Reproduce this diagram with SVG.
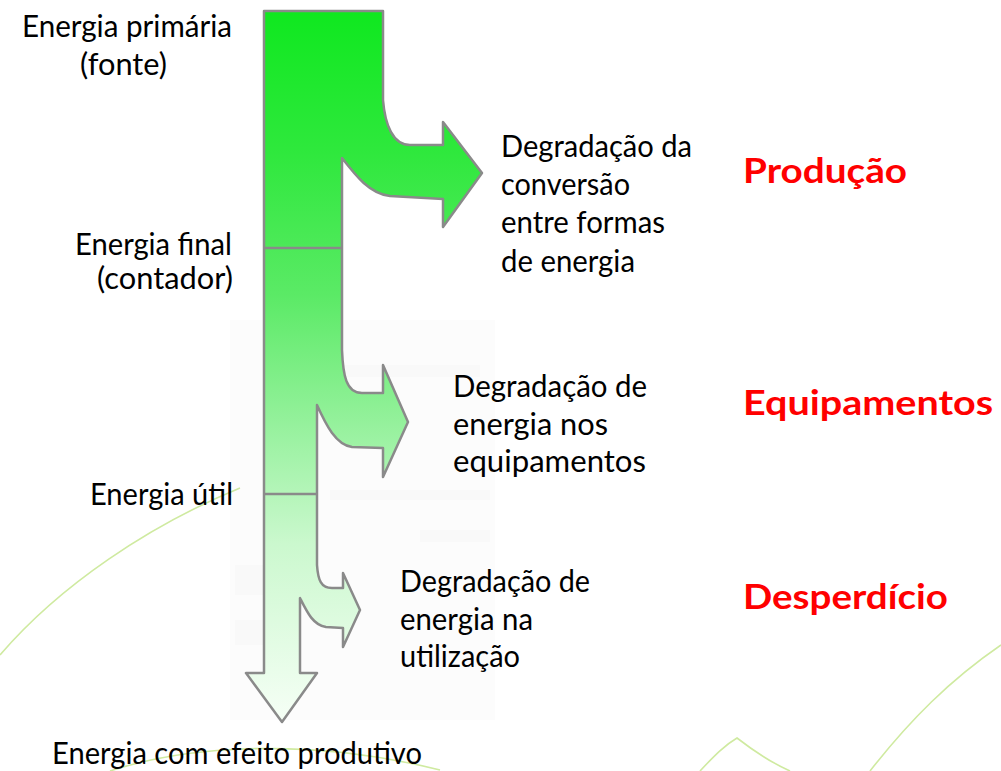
<svg xmlns="http://www.w3.org/2000/svg" width="1001" height="771" viewBox="0 0 1001 771">
<style>
.lbl{font-family:"Lato","Open Sans","DejaVu Sans",sans-serif;font-size:30px;fill:#000}
.cat{font-family:"Lato","Open Sans","DejaVu Sans",sans-serif;font-size:35px;font-weight:bold;fill:#ff0000}
.deco{fill:none;stroke:#cfeaa0;stroke-width:1.6}
.ghost{fill:#000;opacity:0.012}
.flowline{fill:none;stroke:#8a8a8a;stroke-width:2.5}
</style>
<defs>
<linearGradient id="gflow" gradientUnits="userSpaceOnUse" x1="0" y1="11" x2="0" y2="722">
<stop offset="0" stop-color="#0fe81f"/>
<stop offset="0.2" stop-color="#2fe83d"/>
<stop offset="0.4" stop-color="#5bea66"/>
<stop offset="0.58" stop-color="#95f19c"/>
<stop offset="0.75" stop-color="#cbf8ce"/>
<stop offset="1" stop-color="#f6fff6"/>
</linearGradient>
</defs>
<rect width="1001" height="771" fill="#ffffff"/>
<g id="background">
<path class="deco" d="M0,655 C60,585 150,525 240,488"/>
<path class="deco" d="M110,771 C180,748 300,735 440,770"/>
<path class="deco" d="M700,771 C715,755 725,745 737,738 C755,752 770,762 790,771"/>
<path class="deco" d="M870,771 C910,720 950,680 1001,645"/>
<rect class="ghost" x="230" y="320" width="265" height="400"/>
<rect class="ghost" x="330" y="365" width="150" height="12"/>
<rect class="ghost" x="330" y="490" width="160" height="10"/>
<rect class="ghost" x="420" y="530" width="70" height="12"/>
<rect class="ghost" x="235" y="565" width="60" height="30"/>
<rect class="ghost" x="235" y="620" width="60" height="25"/>
</g>
<g id="flow">
<path fill="url(#gflow)" stroke="#8a8a8a" stroke-width="2.5" stroke-linejoin="round" d="M264,11 L383,11 L383,100 C385,125 393,145 410,145 L443,145 L443,122 L482,173 L443,227 L443,199 L390,196 C370,194 356,176 342,158 L342,350 C343,375 346,393 362,393 L383,393 L383,365 L408,422 L383,477 L383,448 L352,447 C336,445 326,425 317,405 L317,565 C318,580 321,588 332,588 L343,588 L343,573 L360,610 L343,647 L343,628 L326,627 C313,625 307,612 300,598 L300,673 L317,673 L282,722 L246,673 L264,673 Z"/>
</g>
<g id="connectors">
<line class="flowline" x1="264" y1="248" x2="342" y2="248"/>
<line class="flowline" x1="264" y1="494" x2="317" y2="494"/>
</g>
<g id="energia-primaria">
<text class="lbl" x="22" y="37" textLength="210" lengthAdjust="spacingAndGlyphs">Energia primária</text>
<text class="lbl" x="80" y="75" textLength="87" lengthAdjust="spacingAndGlyphs">(fonte)</text>
</g>
<g id="energia-final">
<text class="lbl" x="75" y="255" textLength="157" lengthAdjust="spacingAndGlyphs">Energia final</text>
<text class="lbl" x="97" y="289" textLength="136" lengthAdjust="spacingAndGlyphs">(contador)</text>
</g>
<g id="energia-util">
<text class="lbl" x="90" y="505" textLength="143" lengthAdjust="spacingAndGlyphs">Energia útil</text>
</g>
<g id="energia-produtivo">
<text class="lbl" x="52" y="764" textLength="370" lengthAdjust="spacingAndGlyphs">Energia com efeito produtivo</text>
</g>
<g id="degradacao-conversao">
<text class="lbl" x="501" y="157" textLength="191" lengthAdjust="spacingAndGlyphs">Degradação da</text>
<text class="lbl" x="501" y="195" textLength="129" lengthAdjust="spacingAndGlyphs">conversão</text>
<text class="lbl" x="501" y="233" textLength="164" lengthAdjust="spacingAndGlyphs">entre formas</text>
<text class="lbl" x="501" y="272" textLength="134" lengthAdjust="spacingAndGlyphs">de energia</text>
</g>
<g id="degradacao-equipamentos">
<text class="lbl" x="453" y="397" textLength="194" lengthAdjust="spacingAndGlyphs">Degradação de</text>
<text class="lbl" x="453" y="435" textLength="155" lengthAdjust="spacingAndGlyphs">energia nos</text>
<text class="lbl" x="453" y="472" textLength="193" lengthAdjust="spacingAndGlyphs">equipamentos</text>
</g>
<g id="degradacao-utilizacao">
<text class="lbl" x="400" y="592" textLength="190" lengthAdjust="spacingAndGlyphs">Degradação de</text>
<text class="lbl" x="400" y="630" textLength="133" lengthAdjust="spacingAndGlyphs">energia na</text>
<text class="lbl" x="400" y="667" textLength="120" lengthAdjust="spacingAndGlyphs">utilização</text>
</g>
<g id="producao">
<text class="cat" x="743" y="183" textLength="164" lengthAdjust="spacingAndGlyphs">Produção</text>
</g>
<g id="equipamentos">
<text class="cat" x="743" y="415" textLength="250" lengthAdjust="spacingAndGlyphs">Equipamentos</text>
</g>
<g id="desperdicio">
<text class="cat" x="743" y="609" textLength="205" lengthAdjust="spacingAndGlyphs">Desperdício</text>
</g>
</svg>
